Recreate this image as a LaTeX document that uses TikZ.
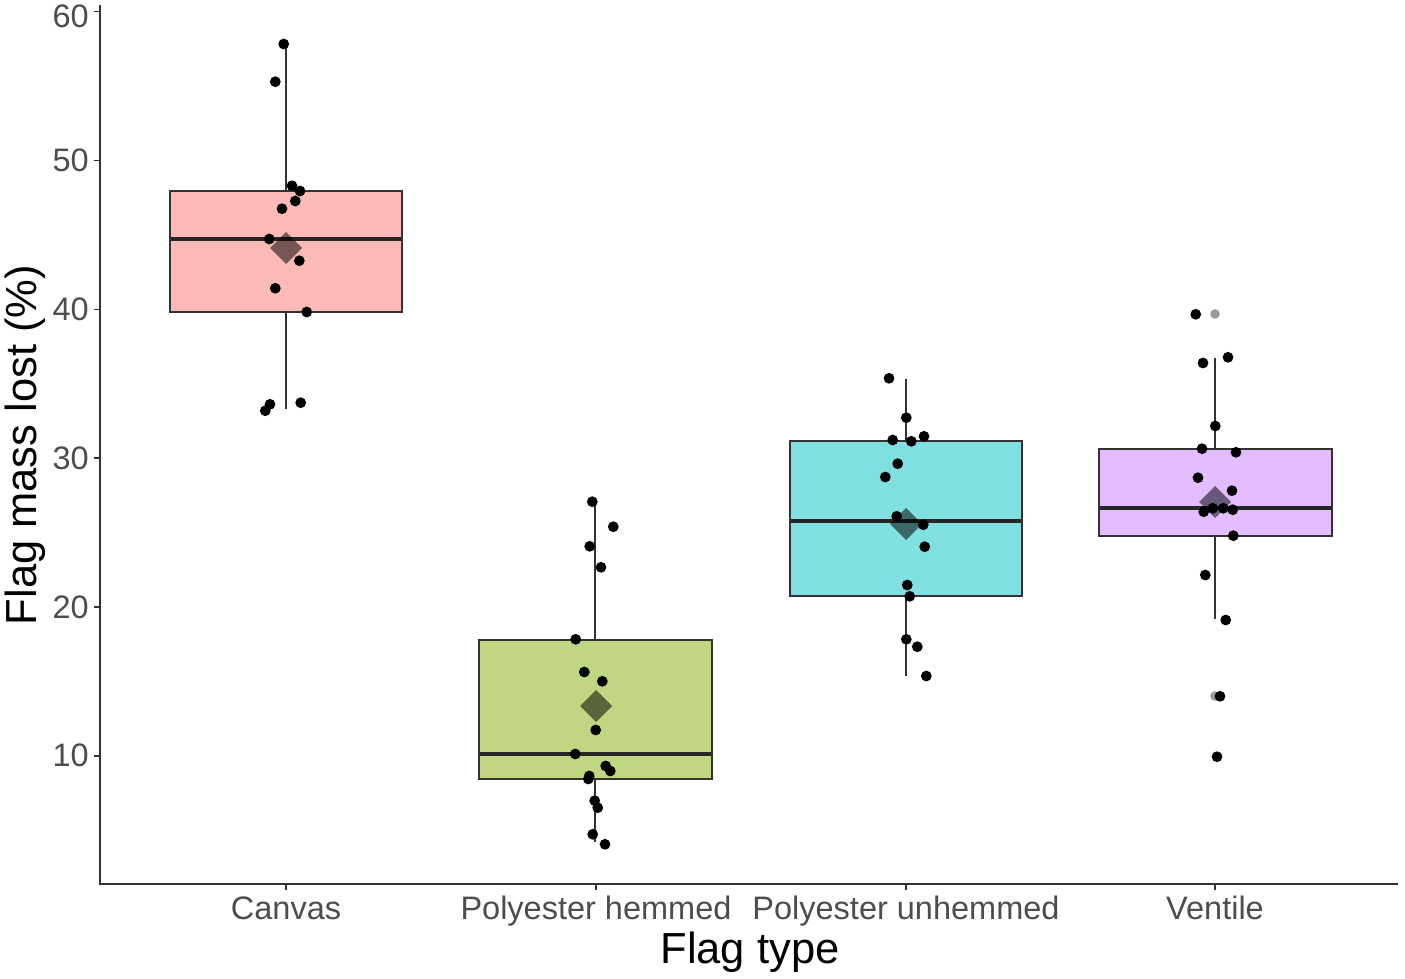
\documentclass[tikz,border=0pt]{standalone}
\usepackage{fontspec}
\setmainfont{Liberation Sans}
\definecolor{tickgrey}{HTML}{4D4D4D}
\definecolor{boxline}{HTML}{333333}
\definecolor{medcol}{HTML}{262626}
\definecolor{fillA}{HTML}{FBBAB6}
\definecolor{fillB}{HTML}{BFD780}
\definecolor{fillC}{HTML}{7FDFE1}
\definecolor{fillD}{HTML}{E3BDFF}
\begin{document}
\begin{tikzpicture}[x=1pt,y=-1pt,
  axisline/.style={draw=boxline,line width=2pt},
  tickmark/.style={draw=boxline,line width=1.6pt},
  boxst/.style={draw=boxline,line width=2pt},
  medline/.style={draw=medcol,line width=3.5pt},
  whisk/.style={draw=boxline,line width=2pt},
  dotst/.style={fill=black},
  ghost/.style={fill=black!40},
  meanst/.style={fill=black,opacity=0.53},
  ticklab/.style={text=tickgrey,font=\fontsize{32.5}{38}\selectfont,inner sep=0pt},
  axtitle/.style={text=black,font=\fontsize{43.5}{50}\selectfont,inner sep=0pt}
]
\useasboundingbox (0,0) rectangle (1405,979);

% ---------- boxes ----------
% Canvas
\draw[whisk] (286,191) -- (286,43);
\draw[whisk] (286,312) -- (286,409);
\filldraw[boxst,fill=fillA] (170,191) rectangle (402,312);
\draw[medline] (171,239) -- (401,239);
% Polyester hemmed
\draw[whisk] (595,640) -- (595,502);
\draw[whisk] (595,779) -- (595,842);
\filldraw[boxst,fill=fillB] (479,640) rectangle (712,779);
\draw[medline] (480,754) -- (711,754);
% Polyester unhemmed
\draw[whisk] (906,441) -- (906,379);
\draw[whisk] (906,596) -- (906,676);
\filldraw[boxst,fill=fillC] (790,441) rectangle (1022,596);
\draw[medline] (791,521) -- (1021,521);
% Ventile
\draw[whisk] (1215,449) -- (1215,358);
\draw[whisk] (1215,536) -- (1215,619);
\filldraw[boxst,fill=fillD] (1099,449) rectangle (1332,536);
\draw[medline] (1100,508) -- (1331,508);

% ---------- outliers (boxplot) ----------
\fill[ghost] (1215,314) circle (4.8pt);
\fill[ghost] (1215,696) circle (4.8pt);

% ---------- means ----------
\foreach \cx/\cy in {286/248, 596/706, 906/524, 1215/502}
  \fill[meanst] (\cx,\cy-16) -- (\cx+16,\cy) -- (\cx,\cy+16) -- (\cx-16,\cy) -- cycle;

% ---------- points ----------
\foreach \px/\py in {
  283.7/44, 275.3/81.7, 292/185.7, 300/191, 295.3/201, 282/208.7, 269.3/239,
  299.3/260.7, 275.3/288.3, 306.7/312, 270/404.3, 265.3/410.7, 300.7/402.7,
  592.3/501.7, 613.3/526.7, 589.7/546.3, 601/567.3, 575.7/639.3, 584.3/672,
  602.3/681.3, 595.7/730, 575.3/754, 605.7/766, 610.3/771, 589.3/776,
  588.3/779, 594.7/800.7, 597.7/807.7, 592.7/834.3, 605/844.3,
  889/378.3, 906.3/417.7, 892.7/440, 911.3/441.3, 924/436.3, 897.7/463.7,
  885.3/477, 896.7/516.3, 923.3/524.7, 924.7/546.7, 907.3/585, 909.7/596.3,
  906.3/639.3, 917.3/646.7, 926.3/676,
  1195.7/314.3, 1203/363, 1228/357.3, 1215.3/426, 1202/448.7, 1236/452.3,
  1198/477.7, 1232/490.7, 1203.7/511.7, 1212.7/508.3, 1223.3/508.3,
  1232.7/509.7, 1233.3/535.7, 1205.3/575, 1225.7/620, 1220/696.3, 1217/756.7}
  \fill[dotst] (\px,\py) circle (5.4pt);

% ---------- axes ----------
\coordinate (ytop) at (100,5);
\coordinate (orig) at (100,884);
\coordinate (xend) at (1398,884);
\draw[axisline] (ytop) -- (orig) -- (xend);

\foreach \v/\yy/\ly in {60/11.7/16, 50/160.5/160.5, 40/309.3/309.3, 30/458.1/458.1, 20/606.9/606.9, 10/755.7/755.7} {
  \draw[tickmark] (94,\yy) -- (100,\yy);
  \node[ticklab,anchor=east] (yl\v) at (89,\ly) {\v};
}
\foreach \cx/\lab/\nm in {286/Canvas/xa, 596/Polyester hemmed/xb, 906/Polyester unhemmed/xc, 1215/Ventile/xd} {
  \draw[tickmark] (\cx,884) -- (\cx,890);
  \node[ticklab,anchor=base] (\nm) at (\cx,919) {\lab};
}

\node[axtitle,anchor=base] (xtitle) at (750,963) {Flag type};
\node[axtitle,anchor=base,rotate=90] (ytitle) at (36,445) {Flag mass lost (\%)};
\end{tikzpicture}
\end{document}
